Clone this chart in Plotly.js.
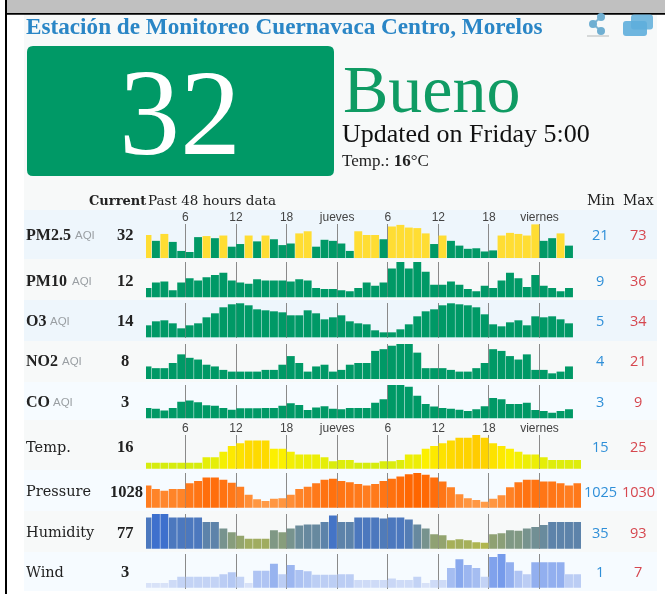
<!DOCTYPE html>
<html><head><meta charset="utf-8">
<script src="https://cdn.plot.ly/plotly-3.0.1.min.js"></script>
<style>html,body{margin:0;padding:0;background:#fff;overflow:hidden}#c{width:665px;height:594px;filter:blur(0.55px)}</style>
</head><body><div id="c"></div>
<script>
const pm25=[53,42,55,40,23,21,49,51,47,52,31,36,52,41,52,45,34,37,56,60,31,44,42,37,23,60,53,53,45,69,72,67,66,56,36,52,42,33,27,28,22,24,52,57,55,52,73,42,47,56,33];
const pm10=[12,17,18,10,17,21,19,22,24,26,19,17,16,20,19,19,19,18,20,19,12,11,11,10,9,12,17,14,17,30,36,30,36,27,15,15,18,15,11,9,14,12,19,26,21,13,24,14,12,9,12];
const o3=[12,16,17,14,9,12,14,20,24,30,33,34,32,28,27,26,25,22,22,27,24,18,20,22,16,14,13,7,5,5,8,13,21,26,28,32,34,33,32,30,23,13,11,15,17,12,21,20,21,18,14];
const no2=[8,7,7,10,15,13,12,9,8,6,5,5,5,5,6,6,9,14,10,5,8,9,5,6,9,10,10,17,18,20,21,21,16,7,7,7,6,5,5,7,10,18,17,14,12,15,6,6,4,5,8];
const co=[3.7,3.5,3.1,3.7,5.1,5.4,5,4.3,4.2,3.7,3.3,3.6,3.6,3.6,3.7,3.7,4.2,4.8,4.4,3.2,3.8,4.1,3.5,3.4,3.7,3.7,3.7,4.9,5.7,9,9,8.6,6.5,4.6,4,3.7,3.5,3.3,3,3.4,4.1,6,5.7,4.6,4.6,4.9,3.2,3,2.6,3,3.4];
const temp=[15,15,15,15,15,15,15,17,17,19,21,22,23,23,23,20,20,19,18,18,18,17,15.5,16,16,15,15,15,15.5,15.5,16,18,18,20,21,22,23,24,24,25,24,22,21,20,19,18,18,17,16,16,16,16];
const pressure=[1027.8,1027.2,1026.9,1027.2,1027.2,1028.2,1028.6,1029.2,1029.2,1028.8,1028.3,1027.6,1026.2,1025.4,1025.1,1025.5,1025.6,1026.2,1027.2,1027.6,1028.2,1028.8,1029,1028.6,1028.4,1028.1,1027.8,1028.1,1028.6,1029,1029.4,1029.8,1030,1029.7,1029.2,1028.5,1027.5,1026.3,1025.6,1025.3,1025,1025.5,1026.1,1027.5,1028.4,1028.8,1028.8,1028.5,1028.5,1028.2,1027.8,1028.2];
const humidity=[86,93,93,86,86,86,86,77,77,64,56,49,43,43,43,60,56,64,70,72,72,77,90,77,77,86,86,86,84,86,86,82,72,64,52,50,40,42,40,36,35,52,54,60,59,64,67,71,77,77,77,77];
const wind=[1,1,1,1.6,2.3,2.3,2.3,2.3,2.3,2.8,3.2,2.3,1,3.5,3.5,5,2.8,4.7,3.7,3.4,2.7,2.7,2.7,2.8,2.8,1.6,1.6,1.6,1.6,1.9,1.6,1.6,2.3,1,1.6,1.6,4.1,5.9,4.7,4.1,2.3,6.4,7,5.3,3.5,2.8,5.3,5.3,5.3,5.3,2.8,2.8];

const rowNames=["PM2.5","PM10","O3","NO2","CO","Temp.","Pressure","Humidity","Wind"];
const rowSeries=[pm25,pm10,o3,no2,co,temp,pressure,humidity,wind];
const rowCurrent=["32","12","14","8","3","16","1028","77","3"];
const rowMin=["21","9","5","4","3","15","1025","35","1"];
const rowMax=["73","36","34","21","9","25","1030","93","7"];
const hourTicks=["6","12","18","jueves","6","12","18","viernes"];
const stationTitle="Estación de Monitoreo Cuernavaca Centro, Morelos";
const aqiNow="32", aqiWord="Bueno", updatedText="Updated on Friday 5:00";

// layout (pixels in the 665x594 page)
const W=665,H=594;
const px=v=>v/W, py=v=>1-v/H;
const rowTop=[224,262,303,344,385,435,473,514,554];
const rowBase=[258,297.3,338,379,418.3,468.7,507.7,548.7,589.3];
const bandEdges=[210,259,300,341,382,420,470,511,552,591];
const bandFill=["#eef6fc","#f7f9f9","#eef6fc","#f7f9f9","#f6fbff","#f7f9f9","#f6fbff","#f7f9f9","#f6fbff"];
const rowRange=[[9.7,73.7],[3.4,36],[-0.67,34.3],[0.72,21],[1.3,9],[12.84,25],[1023.94,1030],[23,93],[-0.33,7]];
const rowY=[235,280,320,360.7,401.7,446.7,491,532,571.7];
const aqiX=[75,72,50,62,53];
const tickPos=[4.5,10.5,16.5,22.5,28.5,34.5,40.5,46.5];
const xL=146,xR=581,step=8.43,x0=147.485;
const xRange=[(xL-x0)/step,(xR-x0)/step];

function mix(a,b,t){t=Math.max(0,Math.min(1,t));return `rgb(${a.map((c,i)=>Math.round(c+(b[i]-c)*t)).join(",")})`;}
function tempColor(v){return v<=20?mix([214,236,14],[252,240,0],(v-15)/5):mix([252,240,0],[255,204,0],(v-20)/5);}
const colorFns=[
 v=>v<=50?"#009966":"#ffdd33",v=>"#009966",v=>"#009966",v=>"#009966",v=>"#009966",
 tempColor,
 v=>mix([255,155,72],[255,102,0],(v-1025)/5),
 v=>mix([176,182,78],[62,112,205],(v-35)/58),
 v=>mix([216,226,248],[118,155,235],(v-1)/6)
];

const traces=[],layout={width:W,height:H,margin:{l:0,r:0,t:0,b:0},paper_bgcolor:"#fff",plot_bgcolor:"rgba(0,0,0,0)",showlegend:false,bargap:0.06,shapes:[],annotations:[]};
const sh=(o)=>layout.shapes.push(Object.assign({xref:"paper",yref:"paper",layer:"below",line:{width:0}},o));
const rect=(x1,y1,x2,y2,fill,opacity)=>sh({type:"rect",x0:px(x1),x1:px(x2),y0:py(y1),y1:py(y2),fillcolor:fill,opacity:opacity===undefined?1:opacity});
function rrect(x1,y1,x2,y2,r,fill,opacity){
 const P=(x,y)=>`${px(x)} ${py(y)}`;
 sh({type:"path",path:`M ${P(x1+r,y1)} L ${P(x2-r,y1)} Q ${P(x2,y1)} ${P(x2,y1+r)} L ${P(x2,y2-r)} Q ${P(x2,y2)} ${P(x2-r,y2)} L ${P(x1+r,y2)} Q ${P(x1,y2)} ${P(x1,y2-r)} L ${P(x1,y1+r)} Q ${P(x1,y1)} ${P(x1+r,y1)} Z`,fillcolor:fill,opacity:opacity===undefined?1:opacity});
}
const txt=(t,x,y,size,color,family,anchor)=>layout.annotations.push({text:t,xref:"paper",yref:"paper",x:px(x),y:py(y),xanchor:anchor||"left",yanchor:"middle",showarrow:false,font:{size,color,family},borderpad:0,borderwidth:0});

const SERIF="Liberation Serif",DJ="DejaVu Serif",SANS="Liberation Sans",OS="Open Sans";

// page frame
rect(24,14,657,591,"#f7f9f9");
rect(6,0,665,13,"#c0c0c0");
rect(5,13,665,14.7,"#000");
rect(5,0,7,594,"#000");
bandFill.forEach((f,i)=>rect(24,bandEdges[i],657,bandEdges[i+1],f));

// AQI card
rrect(27,46,334,176,6,"#009966");

// icons
const ic="#5eaedb";
sh({type:"path",path:`M ${px(601)} ${py(17)} L ${px(593)} ${py(24)} L ${px(601)} ${py(31)}`,line:{color:"#7fb6d4",width:2}});
rect(587,35,609,37,"#d6d9d9");
[[601,17],[593,24],[601,31]].forEach(c=>sh({type:"circle",x0:px(c[0]-4),x1:px(c[0]+4),y0:py(c[1]-4),y1:py(c[1]+4),fillcolor:"#6fafd2"}));
rrect(631,14.5,653,29.5,3,ic,0.85);
rrect(623,21,647,36,3,ic,0.9);

// header text
txt("<b>"+stationTitle+"</b>",26,26,23.2,"#2a86c6",SERIF);
txt(aqiNow,180,113,122,"#fff",SERIF,"center");
txt(aqiWord,343,89,68,"#0f9b63",SERIF);
txt(updatedText,342,133,26,"#111",SERIF);
txt("Temp.: <b>16</b>°C",342,161,17,"#222",SERIF);
txt("<b>Current</b>",146,200,13,"#222",DJ,"right");
txt("Past 48 hours data",148,200,13.5,"#222",DJ);
txt("Min",600.5,200,14,"#222",DJ,"center");
txt("Max",638,200,14,"#222",DJ,"center");

// rows
rowSeries.forEach((vals,r)=>{
 const n=r===0?"":String(r+1);
 traces.push({type:"bar",x:vals.map((_,i)=>i),y:vals,xaxis:"x"+n,yaxis:"y"+n,
  marker:{color:vals.map(colorFns[r]),line:{width:0}},hoverinfo:"skip"});
 const labelled=(r===0||r===5);
 layout["xaxis"+n]={domain:[px(xL),px(xR)],range:xRange,anchor:"y"+n,side:"top",
  tickmode:"array",tickvals:tickPos,ticktext:hourTicks,showticklabels:labelled,
  tickfont:{size:12,color:"#444",family:SANS},ticks:"",ticklen:0,
  showgrid:true,gridcolor:"#8a8a8a",gridwidth:1,zeroline:false,showline:false,fixedrange:true,automargin:false};
 layout["yaxis"+n]={domain:[py(rowBase[r]),py(rowTop[r])],range:rowRange[r],anchor:"x"+n,
  showgrid:false,zeroline:false,showline:false,showticklabels:false,ticks:"",fixedrange:true};
 const y=rowY[r],isAqi=r<5;
 if(isAqi){
  txt("<b>"+rowNames[r]+"</b>",26,y,16,"#222",SERIF);
  txt("AQI",aqiX[r],y+0.5,11.5,"#9a9fa3",SANS);
 } else {
  txt(rowNames[r],26,y,14.5,"#222",DJ);
 }
 txt("<b>"+rowCurrent[r]+"</b>",r===6?126.5:125,y,16.5,"#222",SERIF,"center");
 txt(rowMin[r],600,y,14.5,"#2f8fd8",OS,"center");
 txt(rowMax[r],638,y,14.5,"#d6474f",OS,"center");
});

Plotly.newPlot("c",traces,layout,{displayModeBar:false,staticPlot:true});
</script></body></html>
